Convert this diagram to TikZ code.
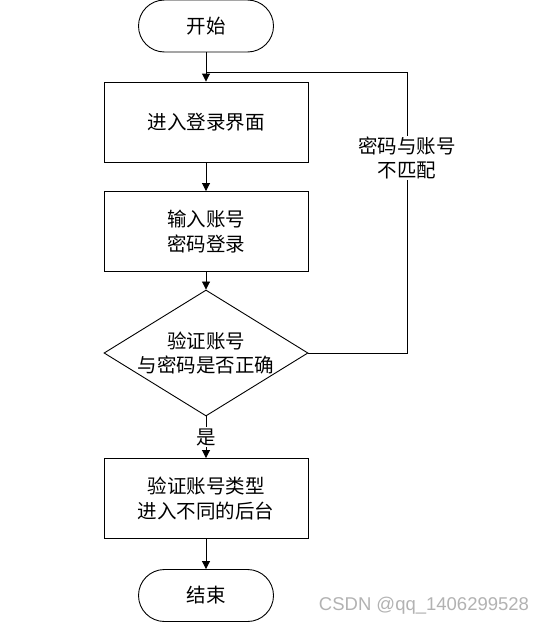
\documentclass[tikz,border=0pt]{standalone}
\usepackage{fontspec}
\setmainfont{Liberation Serif}
\newfontfamily\cjk{Noto Sans CJK SC}
\newfontfamily\wmfont{Liberation Sans}
\usetikzlibrary{shapes.geometric,arrows.meta}
\begin{document}
\begin{tikzpicture}[x=1pt,y=-1pt,
  every node/.style={font=\cjk\fontsize{19.5}{24.5}\selectfont},
  term/.style={draw, line width=0.9pt, rectangle, rounded corners=26pt, minimum width=135pt, minimum height=52pt, inner sep=0pt},
  procbox/.style={draw, line width=0.9pt, rectangle, minimum width=204pt, minimum height=80pt, align=center, inner sep=0pt},
  decide/.style={draw, line width=0.9pt, diamond, minimum width=204pt, minimum height=126pt, inner sep=0pt},
  conn/.style={line width=0.9pt},
  arr/.style={conn, -{Triangle[length=8pt,width=8pt]}},
  lbl/.style={fill=white, align=center, inner sep=1pt}
]
\useasboundingbox (0,0) rectangle (545,626);
\node[term] (start) at (206,26) {开始};
\node[procbox] (login) at (206,122) {进入登录界面};
\node[procbox] (input) at (206,231.5) {输入账号\\密码登录};
\node[decide] (check) at (206,353) {};
\node[align=center] (checkt) at (206,353) {验证账号\\与密码是否正确};
\node[procbox] (type) at (206,498.5) {验证账号类型\\进入不同的后台};
\node[term] (end) at (206,595.5) {结束};
\coordinate (merge) at (206,72);
\coordinate (corner) at (407,353);

\draw[arr] (start) -- (login);
\draw[arr] (login) -- (input);
\draw[arr] (input) -- (check);
\draw[arr] (check) -- (type);
\node[lbl] (yes) at (206,437) {是};
\draw[arr] (type) -- (end);
\draw[conn] (check.east) -- (corner) |- (merge);
\node[lbl] (nomatch) at (407,158) {密码与账号\\不匹配};

\node[font=\wmfont\fontsize{18.5}{20}\selectfont, text=black!30] (wm) at (424,606) {CSDN @qq\_1406299528};
\end{tikzpicture}
\end{document}
